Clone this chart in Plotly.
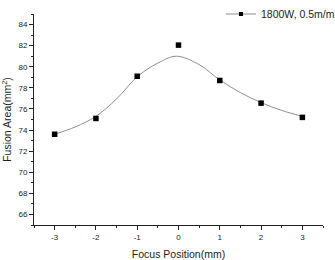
import plotly.graph_objects as go

# measured data points
focus_pos = [-3, -2, -1, 0, 1, 2, 3]
fusion_area = [73.6, 75.1, 79.1, 82.05, 78.7, 76.55, 75.2]

# fitted curve
fit_x = [-3, -2.5, -2, -1.5, -1, -0.5, -0.05, 0.5, 1, 1.5, 2, 2.5, 3]
fit_y = [73.6, 74.3, 75.3, 76.95, 79.05, 80.35, 81.0, 80.2, 78.75, 77.55, 76.6, 75.86, 75.29]

x_ticks = [-3, -2, -1, 0, 1, 2, 3]
y_ticks = [66, 68, 70, 72, 74, 76, 78, 80, 82, 84]

font_family = "Liberation Sans, Arial, sans-serif"

fig = go.Figure()
fig.add_trace(go.Scatter(
    x=fit_x, y=fit_y, mode="lines",
    line=dict(color="#8f8f8f", width=1, shape="spline", smoothing=1.0),
    showlegend=False, hoverinfo="skip"))
fig.add_trace(go.Scatter(
    x=focus_pos, y=fusion_area, mode="markers",
    name="1800W, 0.5m/m",
    marker=dict(symbol="square", size=5.5, color="black"),
    showlegend=False))
# legend proxy
fig.add_trace(go.Scatter(
    x=[None], y=[None], mode="lines+markers", name="1800W, 0.5m/m",
    line=dict(color="#8f8f8f", width=1),
    marker=dict(symbol="square", size=4, color="black")))

fig.update_layout(
    width=335, height=260,
    margin=dict(l=34, r=12, t=14, b=35, autoexpand=False),
    paper_bgcolor="white", plot_bgcolor="white",
    font=dict(family=font_family, color="#222", size=9),
    showlegend=True,
    legend=dict(x=221 / 335, y=1 - 14 / 260, xref="container", yref="container",
                xanchor="left", yanchor="middle",
                bgcolor="rgba(0,0,0,0)", font=dict(size=10.5, color="#222"),
                itemwidth=30, tracegroupgap=0),
    xaxis=dict(range=[-3.5, 3.5], tickvals=x_ticks, ticktext=[str(v) for v in x_ticks],
               showgrid=False, zeroline=False, showline=True, linecolor="#222", linewidth=1,
               ticks="outside", ticklen=4, tickcolor="#222",
               minor=dict(dtick=0.5, tick0=-3.5, ticks="outside", ticklen=2, tickcolor="#222"),
               title=dict(text="Focus Position(mm)", font=dict(size=10.5), standoff=10),
               tickfont=dict(size=8)),
    yaxis=dict(range=[65, 85], tickvals=y_ticks, ticktext=[str(v) for v in y_ticks],
               showgrid=False, zeroline=False, showline=True, linecolor="#222", linewidth=1,
               ticks="outside", ticklen=4, tickcolor="#222",
               minor=dict(dtick=1, tick0=65, ticks="outside", ticklen=2, tickcolor="#222"),
               title=dict(text="Fusion Area(mm<sup>2</sup>)", font=dict(size=10.5), standoff=4),
               tickfont=dict(size=8)),
)

fig.write_html("out.html")
